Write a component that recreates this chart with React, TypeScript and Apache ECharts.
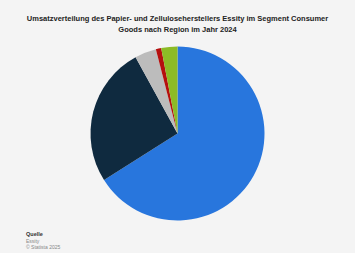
import React, { useEffect, useRef } from "react";
import * as echarts from "echarts";

const categories = ["Europa", "Nordamerika", "Lateinamerika", "Asien", "Sonstige"];
const values = [66, 26, 4, 1, 3];
const colors = ["#2876dd", "#0f2a3f", "#bcbcbc", "#b5100f", "#8cbb26"];
const titleLines = [
  "Umsatzverteilung des Papier- und Zelluloseherstellers Essity im Segment Consumer",
  "Goods nach Region im Jahr 2024",
];

export default function App() {
  const ref = useRef<HTMLDivElement>(null);
  useEffect(() => {
    if (!ref.current) return;
    const chart = echarts.init(ref.current, undefined, { renderer: "svg" });
    chart.setOption({
      animation: false,
      backgroundColor: "#f4f4f4",
      title: {
        text: titleLines.join("\n"),
        left: "center",
        top: 8,
        textStyle: {
          fontFamily: "Liberation Sans",
          fontSize: 7.5,
          fontWeight: "bold",
          color: "#222",
          lineHeight: 11,
        },
      },
      graphic: [
        {
          type: "text",
          left: 26,
          top: 231,
          style: { text: "Quelle", fontFamily: "Liberation Sans", fontSize: 5.5, fill: "#333", fontWeight: "bold" },
        },
        {
          type: "text",
          left: 26,
          top: 238,
          style: { text: "Essity", fontFamily: "Liberation Sans", fontSize: 5, fill: "#888" },
        },
        {
          type: "text",
          left: 26,
          top: 244,
          style: { text: "© Statista 2025", fontFamily: "Liberation Sans", fontSize: 5, fill: "#888" },
        },
      ],
      series: [
        {
          type: "pie",
          center: [177.5, 133.5],
          radius: [0, 87],
          startAngle: 90,
          clockwise: true,
          label: { show: false },
          labelLine: { show: false },
          itemStyle: { borderWidth: 0 },
          emphasis: { disabled: true },
          data: categories.map((c, i) => ({ name: c, value: values[i], itemStyle: { color: colors[i] } })),
        },
      ],
    });
    return () => chart.dispose();
  }, []);
  return <div ref={ref} style={{ position: "absolute", left: 0, top: 0, width: 355, height: 253 }} />;
}
